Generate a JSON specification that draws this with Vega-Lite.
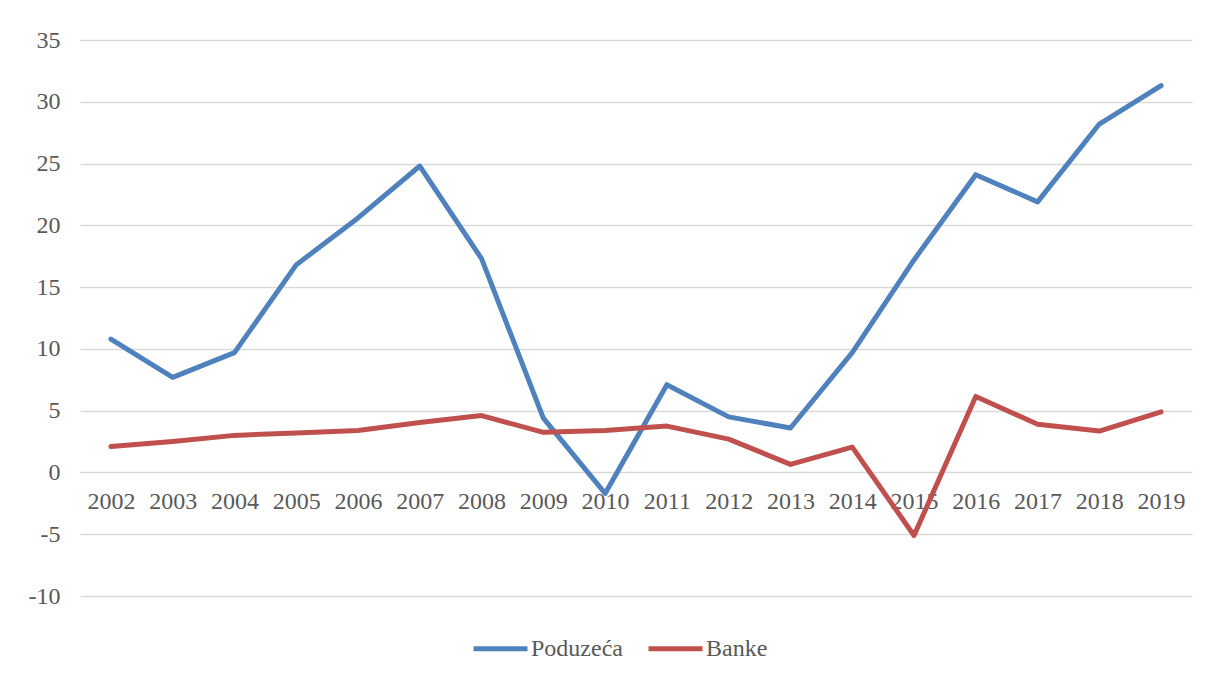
{
  "$schema": "https://vega.github.io/schema/vega-lite/v6.json",
  "width": 1112,
  "height": 556,
  "autosize": {"type": "none"},
  "padding": {"left": 80, "top": 40, "right": 16, "bottom": 79},
  "background": "white",
  "config": {
    "view": {"stroke": null},
    "font": "Liberation Serif"
  },
  "data": {
    "values": [
      {"year": "2002", "series": "Poduzeća", "value": 10.8},
      {"year": "2003", "series": "Poduzeća", "value": 7.7},
      {"year": "2004", "series": "Poduzeća", "value": 9.7},
      {"year": "2005", "series": "Poduzeća", "value": 16.8},
      {"year": "2006", "series": "Poduzeća", "value": 20.6},
      {"year": "2007", "series": "Poduzeća", "value": 24.8},
      {"year": "2008", "series": "Poduzeća", "value": 17.3},
      {"year": "2009", "series": "Poduzeća", "value": 4.4},
      {"year": "2010", "series": "Poduzeća", "value": -1.7},
      {"year": "2011", "series": "Poduzeća", "value": 7.1},
      {"year": "2012", "series": "Poduzeća", "value": 4.5},
      {"year": "2013", "series": "Poduzeća", "value": 3.6},
      {"year": "2014", "series": "Poduzeća", "value": 9.7},
      {"year": "2015", "series": "Poduzeća", "value": 17.2},
      {"year": "2016", "series": "Poduzeća", "value": 24.1},
      {"year": "2017", "series": "Poduzeća", "value": 21.9},
      {"year": "2018", "series": "Poduzeća", "value": 28.2},
      {"year": "2019", "series": "Poduzeća", "value": 31.3},
      {"year": "2002", "series": "Banke", "value": 2.1},
      {"year": "2003", "series": "Banke", "value": 2.5},
      {"year": "2004", "series": "Banke", "value": 3.0},
      {"year": "2005", "series": "Banke", "value": 3.2},
      {"year": "2006", "series": "Banke", "value": 3.4},
      {"year": "2007", "series": "Banke", "value": 4.05},
      {"year": "2008", "series": "Banke", "value": 4.6},
      {"year": "2009", "series": "Banke", "value": 3.25},
      {"year": "2010", "series": "Banke", "value": 3.4},
      {"year": "2011", "series": "Banke", "value": 3.75},
      {"year": "2012", "series": "Banke", "value": 2.7},
      {"year": "2013", "series": "Banke", "value": 0.65},
      {"year": "2014", "series": "Banke", "value": 2.05},
      {"year": "2015", "series": "Banke", "value": -5.1},
      {"year": "2016", "series": "Banke", "value": 6.15},
      {"year": "2017", "series": "Banke", "value": 3.9},
      {"year": "2018", "series": "Banke", "value": 3.35},
      {"year": "2019", "series": "Banke", "value": 4.9}
    ]
  },
  "mark": {"type": "line", "strokeWidth": 5, "strokeCap": "round", "strokeJoin": "round"},
  "encoding": {
    "x": {
      "field": "year",
      "type": "ordinal",
      "scale": {"type": "point", "padding": 0.5},
      "axis": {
        "title": null,
        "labelAngle": 0,
        "domain": false,
        "ticks": false,
        "grid": false,
        "offset": -124,
        "labelPadding": 17,
        "labelFont": "Liberation Serif",
        "labelFontSize": 24,
        "labelColor": "#595959"
      }
    },
    "y": {
      "field": "value",
      "type": "quantitative",
      "scale": {"domain": [-10, 35], "nice": false, "zero": false},
      "axis": {
        "title": null,
        "values": [-10, -5, 0, 5, 10, 15, 20, 25, 30, 35],
        "labelExpr": "replace(datum.label, '\u2212', '-')",
        "domain": false,
        "ticks": false,
        "gridColor": "#d9d9d9",
        "gridWidth": 1.5,
        "labelPadding": 20,
        "labelFont": "Liberation Serif",
        "labelFontSize": 24,
        "labelColor": "#595959"
      }
    },
    "color": {
      "field": "series",
      "type": "nominal",
      "scale": {"domain": ["Poduzeća", "Banke"], "range": ["#4F81BD", "#C0504D"]},
      "legend": {
        "title": null,
        "orient": "none",
        "direction": "horizontal",
        "legendX": 391,
        "legendY": 579,
        "symbolType": "stroke",
        "symbolSize": 2916,
        "symbolStrokeWidth": 5,
        "labelFont": "Liberation Serif",
        "labelFontSize": 24,
        "labelColor": "#595959",
        "labelOffset": 1,
        "columnPadding": 15
      }
    }
  }
}
